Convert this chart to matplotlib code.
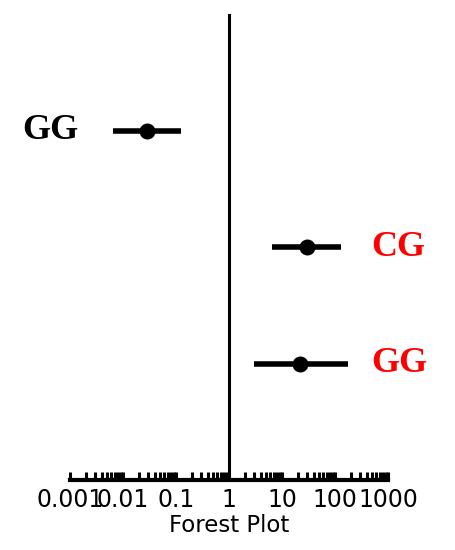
import matplotlib
matplotlib.use("Agg")
import matplotlib.pyplot as plt
import matplotlib.transforms as mtransforms
from matplotlib.ticker import LogLocator, NullFormatter

# Data
labels = ["GG", "CG", "GG"]
label_colors = ["black", "red", "red"]
label_side = ["left", "right", "right"]
rows = [3, 2, 1]
estimates = [0.028, 30.0, 22.0]
ci_low = [0.0066, 6.5, 3.0]
ci_high = [0.123, 132.0, 178.0]
tick_values = [0.001, 0.01, 0.1, 1, 10, 100, 1000]
tick_labels = ["0.001", "0.01", "0.1", "1", "10", "100", "1000"]
xlabel = "Forest Plot"

fig = plt.figure(figsize=(4.55, 5.5), dpi=100)
ax = fig.add_axes([70/455, 1-480/550, 318/455, 466/550])

ax.set_xscale("log")
ax.set_xlim(0.001, 1000)
ax.set_ylim(0, 4)

# reference line at 1
ax.axvline(1, color="black", lw=2.2, zorder=1)

for y, e, lo, hi in zip(rows, estimates, ci_low, ci_high):
    ax.plot([lo, hi], [y, y], color="black", lw=4, solid_capstyle="butt", zorder=2)
    ax.plot([e], [y], marker="o", color="black", markersize=10.5, zorder=3)

trans = mtransforms.blended_transform_factory(ax.transAxes, ax.transData)
for lab, col, side, y in zip(labels, label_colors, label_side, rows):
    if side == "left":
        ax.text(0.027, y, lab, color=col, ha="right", va="center", transform=trans,
                fontsize=26, fontweight="bold", family="Liberation Serif", clip_on=False)
    else:
        ax.text(0.948, y, lab, color=col, ha="left", va="center", transform=trans,
                fontsize=26, fontweight="bold", family="Liberation Serif", clip_on=False)

for s in ["left", "right", "top"]:
    ax.spines[s].set_visible(False)
ax.spines["bottom"].set_linewidth(3)
ax.set_yticks([])

ax.set_xticks(tick_values)
ax.set_xticklabels(tick_labels)
ax.xaxis.set_minor_locator(LogLocator(base=10, subs=range(2, 10), numticks=20))
ax.xaxis.set_minor_formatter(NullFormatter())
ax.tick_params(axis="x", which="major", direction="in", length=6, width=2.2, labelsize=17, pad=6)
ax.tick_params(axis="x", which="minor", direction="in", length=6, width=2.2)
ax.set_xlabel(xlabel, fontsize=16.5, labelpad=1)

fig.savefig("out.png", dpi=100)
